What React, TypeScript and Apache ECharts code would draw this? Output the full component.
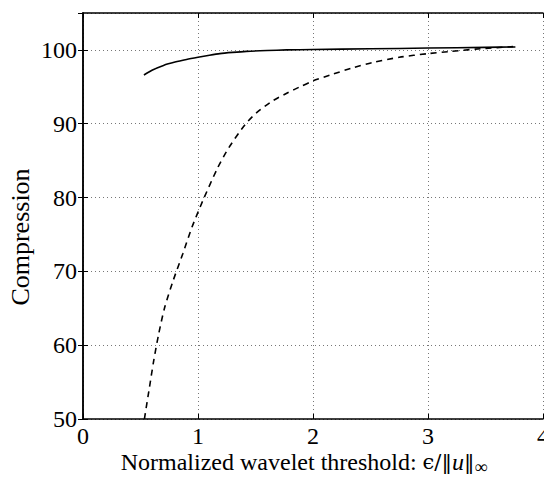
import React, { useEffect, useRef } from "react";
import * as echarts from "echarts";

const solidX = [0.53, 0.6, 0.7, 0.8, 0.9, 1.0, 1.1, 1.19, 1.3, 1.42, 1.6, 1.77, 2.0, 2.5, 3.0, 3.5, 3.76];
const solidY = [96.6, 97.25, 97.9, 98.35, 98.7, 99.0, 99.28, 99.5, 99.66, 99.8, 99.92, 100.0, 100.05, 100.15, 100.25, 100.35, 100.4];

const dashX = [0.534, 0.578, 0.615, 0.658, 0.71, 0.785, 0.868, 0.948, 1.04, 1.17, 1.27, 1.41, 1.51, 1.65, 1.78, 1.9, 2.0, 2.17, 2.35, 2.52, 2.75, 3.0, 3.2, 3.41, 3.6, 3.74];
const dashY = [50, 54.3, 57.9, 61.5, 65.1, 68.8, 72.4, 76.0, 79.5, 84.0, 86.8, 89.9, 91.5, 93.1, 94.2, 95.1, 95.8, 96.7, 97.6, 98.3, 99.0, 99.5, 99.8, 100.1, 100.3, 100.45];

const xTicks = [0, 1, 2, 3, 4];
const yTicks = [50, 60, 70, 80, 90, 100];
const yMax = 105;

const SERIF = "'Liberation Serif', 'Times New Roman', serif";
const MATH = "'DejaVu Serif', serif";

export default function App() {
  const ref = useRef<HTMLDivElement>(null);
  useEffect(() => {
    if (!ref.current) return;
    const chart = echarts.init(ref.current, null, { renderer: "svg" });
    const gridLine = { show: true, lineStyle: { color: "#777", width: 1, type: [1, 3] as any } };
    const axisLineStyle = { show: true, lineStyle: { color: "#000", width: 1.5 } };
    const tick = { show: true, inside: true, length: 5, lineStyle: { color: "#000", width: 1 } };
    chart.setOption({
      animation: false,
      backgroundColor: "#fff",
      grid: { left: 83, right: 8, top: 13, bottom: 63 },
      xAxis: [
        {
          type: "value",
          min: xTicks[0],
          max: xTicks[xTicks.length - 1],
          interval: 1,
          axisLine: axisLineStyle,
          axisTick: tick,
          axisLabel: { fontFamily: SERIF, fontSize: 24, color: "#000", margin: 5 },
          splitLine: gridLine,
        },
        {
          type: "value",
          position: "top",
          min: xTicks[0],
          max: xTicks[xTicks.length - 1],
          interval: 1,
          axisLine: axisLineStyle,
          axisTick: tick,
          axisLabel: { show: false },
          splitLine: { show: false },
        },
      ],
      yAxis: [
        {
          type: "value",
          min: yTicks[0],
          max: yMax,
          interval: 10,
          axisLine: axisLineStyle,
          axisTick: tick,
          axisLabel: {
            fontFamily: SERIF,
            fontSize: 24,
            color: "#000",
            margin: 6,
            showMaxLabel: false,
            padding: [5, 0, 0, 0],
          },
          splitLine: gridLine,
        },
        {
          type: "value",
          position: "right",
          min: yTicks[0],
          max: yMax,
          interval: 10,
          axisLine: axisLineStyle,
          axisTick: tick,
          axisLabel: { show: false },
          splitLine: { show: false },
        },
      ],
      graphic: [
        {
          type: "text",
          x: 20,
          y: 237,
          rotation: Math.PI / 2,
          style: {
            text: "Compression",
            fontFamily: SERIF,
            fontSize: 26,
            fill: "#000",
            align: "center",
            verticalAlign: "middle",
          },
        },
        {
          type: "text",
          x: 304,
          y: 462,
          style: {
            text: "{n|Normalized wavelet threshold: }{m|ϵ/‖}{i|u}{m|‖}{s|∞}",
            align: "center",
            verticalAlign: "middle",
            rich: {
              n: { fontFamily: SERIF, fontSize: 24, fill: "#000" },
              m: { fontFamily: MATH, fontSize: 21, fill: "#000" },
              i: { fontFamily: SERIF, fontSize: 24, fontStyle: "italic", fill: "#000" },
              s: { fontFamily: SERIF, fontSize: 18, fill: "#000", padding: [10, 0, 0, 0] },
            },
          },
        },
      ],
      series: [
        {
          type: "line",
          data: solidX.map((x, i) => [x, solidY[i]]),
          showSymbol: false,
          smooth: 0.25,
          lineStyle: { color: "#000", width: 1.6 },
        },
        {
          type: "line",
          data: dashX.map((x, i) => [x, dashY[i]]),
          showSymbol: false,
          smooth: 0.25,
          lineStyle: { color: "#000", width: 1.6, type: [6, 5] as any },
        },
      ],
    });
    return () => chart.dispose();
  }, []);
  return <div ref={ref} style={{ width: 552, height: 482, margin: -8 }} />;
}
